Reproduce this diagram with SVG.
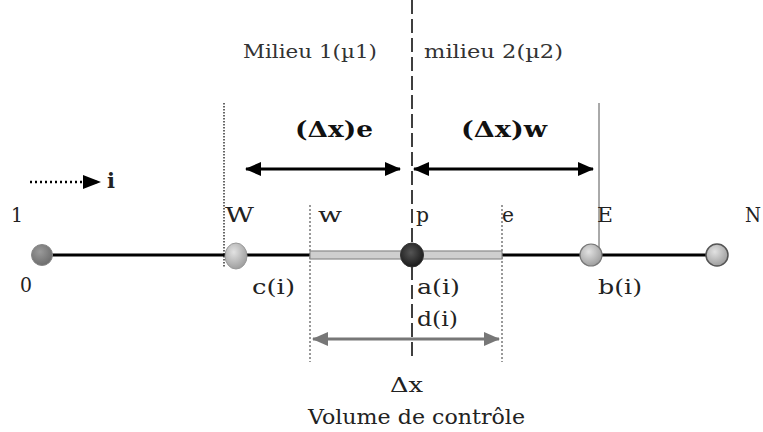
<svg xmlns="http://www.w3.org/2000/svg" width="763" height="432" viewBox="0 0 763 432">
<defs>
<style>
.t{font-family:"DejaVu Serif","Liberation Serif",serif;fill:#222;font-size:21px}
.m{font-family:"DejaVu Serif","Liberation Serif",serif;fill:#333;font-size:19px}
.b{font-family:"DejaVu Serif","Liberation Serif",serif;fill:#111;font-size:23px;font-weight:bold}
.blk{stroke:#000;stroke-width:3;fill:none}
.gry{stroke:#777;stroke-width:3;fill:none}
.dot{stroke:#999;stroke-width:2;stroke-dasharray:2 2;fill:none}
</style>
<marker id="ab" markerUnits="userSpaceOnUse" markerWidth="16" markerHeight="14" refX="15" refY="7" orient="auto-start-reverse"><path d="M0,0 L16,7 L0,14 Z" fill="#000"/></marker>
<marker id="ag" markerUnits="userSpaceOnUse" markerWidth="16" markerHeight="14" refX="15" refY="7" orient="auto-start-reverse"><path d="M0,0 L16,7 L0,14 Z" fill="#777"/></marker>
<marker id="ai" markerUnits="userSpaceOnUse" markerWidth="18" markerHeight="14" refX="17" refY="7" orient="auto"><path d="M0,0 L18,7 L0,14 Z" fill="#000"/></marker>
<radialGradient id="gLight" cx="0.4" cy="0.35" r="0.7"><stop offset="0" stop-color="#e2e2e2"/><stop offset="1" stop-color="#9a9a9a"/></radialGradient>
<radialGradient id="gMid" cx="0.4" cy="0.35" r="0.7"><stop offset="0" stop-color="#9a9a9a"/><stop offset="1" stop-color="#6a6a6a"/></radialGradient>
<radialGradient id="gDark" cx="0.45" cy="0.4" r="0.7"><stop offset="0" stop-color="#555"/><stop offset="1" stop-color="#111"/></radialGradient>
</defs>

<g id="guides">
<line x1="412" y1="0" x2="412" y2="356" stroke="#000" stroke-width="1.5" stroke-dasharray="14 5"/>
<line x1="224" y1="103" x2="224" y2="268" stroke="#666" stroke-width="2" stroke-dasharray="1.5 1.5"/>
<line x1="599" y1="103" x2="599" y2="255" stroke="#555" stroke-width="1"/>
<line class="dot" x1="310" y1="205" x2="310" y2="362"/>
<line class="dot" x1="502" y1="205" x2="502" y2="362"/>
</g>

<g id="connectors">
<line class="blk" x1="42" y1="255" x2="310" y2="255"/>
<line class="blk" x1="502" y1="255" x2="717" y2="255"/>
<rect x="310" y="251" width="192" height="8" fill="#cfcfcf" stroke="#8a8a8a" stroke-width="1.2"/>
<line class="blk" x1="246" y1="169" x2="400" y2="169" marker-start="url(#ab)" marker-end="url(#ab)"/>
<line class="blk" x1="414" y1="169" x2="593" y2="169" marker-start="url(#ab)" marker-end="url(#ab)"/>
<line class="gry" x1="313" y1="339" x2="499" y2="339" marker-start="url(#ag)" marker-end="url(#ag)"/>
<line x1="30" y1="182" x2="100" y2="182" stroke="#000" stroke-width="2.5" stroke-dasharray="2 3" marker-end="url(#ai)"/>
</g>

<g id="node-0"><circle cx="42" cy="255" r="10.5" fill="url(#gMid)" stroke="#888" stroke-width="1"/></g>
<g id="node-W"><ellipse cx="236" cy="256" rx="11" ry="13" fill="url(#gLight)" stroke="#999" stroke-width="1"/></g>
<g id="node-P"><ellipse cx="412" cy="255" rx="11.5" ry="12" fill="url(#gDark)" stroke="#333" stroke-width="1"/></g>
<g id="node-E"><circle cx="591" cy="255" r="11" fill="url(#gLight)" stroke="#777" stroke-width="1.2"/></g>
<g id="node-N"><circle cx="717" cy="255" r="11" fill="url(#gLight)" stroke="#555" stroke-width="1.5"/></g>

<g id="labels">
<text class="m" x="243" y="58" textLength="134" lengthAdjust="spacingAndGlyphs">Milieu 1(µ1)</text>
<text class="m" x="424" y="58" textLength="139" lengthAdjust="spacingAndGlyphs">milieu 2(µ2)</text>
<text class="b" x="295" y="137" textLength="78" lengthAdjust="spacingAndGlyphs">(Δx)e</text>
<text class="b" x="461" y="137" textLength="86" lengthAdjust="spacingAndGlyphs">(Δx)w</text>
<text class="t" x="107" y="188" font-weight="bold" font-size="23">i</text>
<text class="t" x="11" y="222" textLength="12" lengthAdjust="spacingAndGlyphs">1</text>
<text class="t" x="225" y="222" textLength="29" lengthAdjust="spacingAndGlyphs">W</text>
<text class="t" x="318" y="222" textLength="24" lengthAdjust="spacingAndGlyphs">w</text>
<text class="t" x="416" y="222" textLength="13" lengthAdjust="spacingAndGlyphs">p</text>
<text class="t" x="502" y="222" textLength="12" lengthAdjust="spacingAndGlyphs">e</text>
<text class="t" x="597" y="222" textLength="16" lengthAdjust="spacingAndGlyphs">E</text>
<text class="t" x="745" y="222" textLength="16" lengthAdjust="spacingAndGlyphs">N</text>
<text class="t" x="20" y="292" textLength="12" lengthAdjust="spacingAndGlyphs">0</text>
<text class="t" x="252" y="294" textLength="43" lengthAdjust="spacingAndGlyphs">c(i)</text>
<text class="t" x="417" y="294" textLength="43" lengthAdjust="spacingAndGlyphs">a(i)</text>
<text class="t" x="417" y="326" textLength="41" lengthAdjust="spacingAndGlyphs">d(i)</text>
<text class="t" x="598" y="294" textLength="44" lengthAdjust="spacingAndGlyphs">b(i)</text>
<text class="t" x="390" y="392" textLength="33" lengthAdjust="spacingAndGlyphs">Δx</text>
<text class="t" x="308" y="424" textLength="217" lengthAdjust="spacingAndGlyphs">Volume de contrôle</text>
</g>
</svg>
